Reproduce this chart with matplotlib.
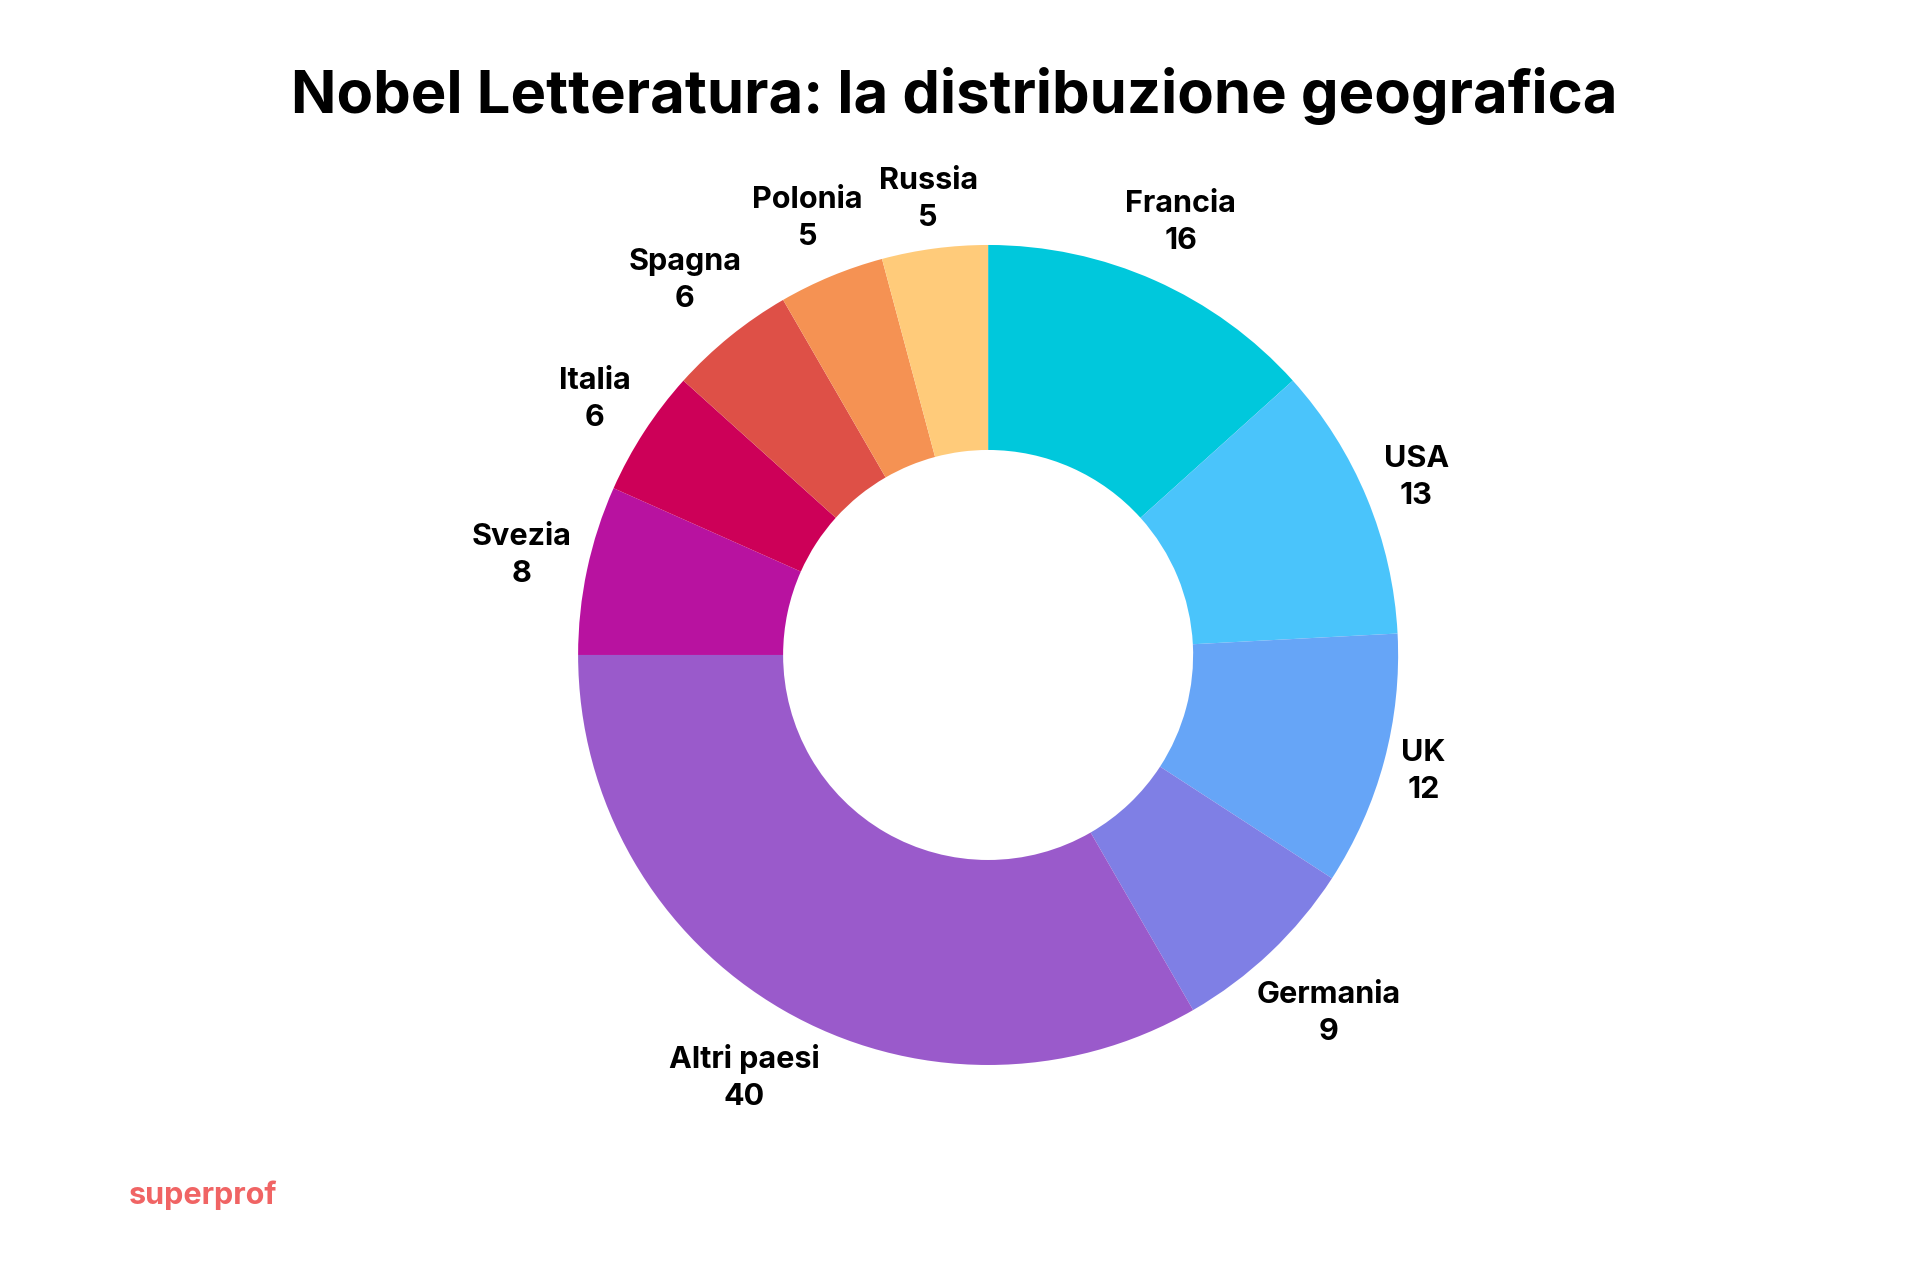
import numpy as np
import matplotlib
matplotlib.use("Agg")
from matplotlib import pyplot as plt

# Data
paesi = ["Francia", "USA", "UK", "Germania", "Altri paesi",
         "Svezia", "Italia", "Spagna", "Polonia", "Russia"]
premi = [16, 13, 12, 9, 40, 8, 6, 6, 5, 5]
colori = ["#00C8DC", "#4AC4FB", "#66A5F7", "#7F7FE5", "#9A5ACB",
          "#B812A0", "#CD0058", "#DE5047", "#F59253", "#FFCB7A"]

plt.rcParams['font.family'] = ['Inter', 'DejaVu Sans']

fig = plt.figure(figsize=(19.17, 12.8), dpi=100)
ax = fig.add_axes([0.2481, 0.0879, 0.5347, 0.8008])

etichette = [f"{p}\n{v}" for p, v in zip(paesi, premi)]
wedges, texts = ax.pie(premi, labels=etichette, colors=colori, startangle=90,
                       counterclock=False, labeldistance=1.18,
                       wedgeprops=dict(width=0.5, linewidth=0),
                       textprops=dict(fontsize=22, fontweight='bold', color='black'))

# place labels so the text box sits a fixed gap outside the ring
renderer = fig.canvas.get_renderer()
c_px = ax.transData.transform((0, 0))
r_px = ax.transData.transform((1, 0))[0] - c_px[0]
gap = 11
for w, t in zip(wedges, texts):
    t.set_ha('center')
    t.set_va('center')
    t.set_linespacing(1.4)
    bb = t.get_window_extent(renderer)
    hw, hh = bb.width / 2, bb.height / 2
    ang = np.deg2rad((w.theta1 + w.theta2) / 2)
    d = r_px + gap + hw * abs(np.cos(ang)) + hh * abs(np.sin(ang))
    pos = c_px + d * np.array([np.cos(ang), np.sin(ang)])
    t.set_position(ax.transData.inverted().transform(pos))

# Title
fig.text(0.498, 0.925, "Nobel Letteratura: la distribuzione geografica",
         ha='center', va='center', fontsize=43, fontweight='bold', color='black')

# Logo text
fig.text(0.067, 0.066, "superprof", ha='left', va='center',
         fontsize=22, fontweight='bold', color='#F06464')

fig.savefig("out.png", dpi=100, facecolor='white')
